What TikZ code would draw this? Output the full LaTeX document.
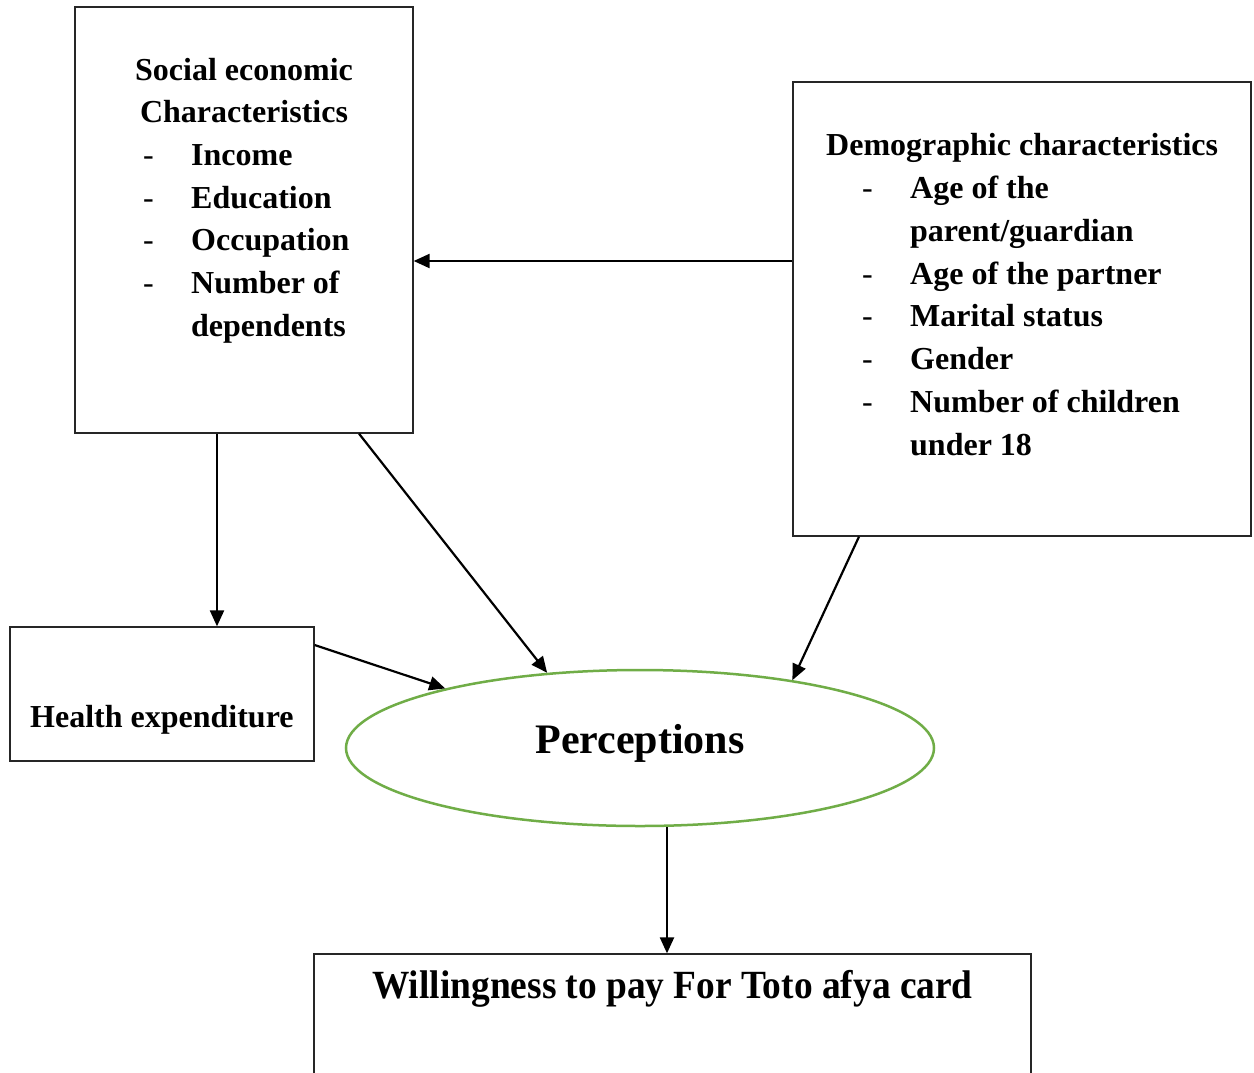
\documentclass[tikz,border=0pt]{standalone}
\usepackage{fontspec}
\usepackage{graphicx}
\setmainfont{Liberation Serif}
\usetikzlibrary{arrows.meta,shapes.geometric}
\begin{document}
\begin{tikzpicture}[x=1pt,y=-1pt,
  box/.style={draw=black!85,line width=1.3pt,inner sep=0pt},
  arr/.style={line width=2.2pt,-{Triangle[length=16pt,width=14pt]}},
  txt/.style={anchor=base west,inner sep=0pt,font=\fontsize{32}{38}\selectfont\bfseries},
  dsh/.style={anchor=base west,inner sep=0pt,font=\fontsize{32}{38}\selectfont}]
\useasboundingbox (0,0) rectangle (1254,1072);
\clip (0,0) rectangle (1254,1072);
\fill[white] (0,0) rectangle (1254,1072);
% boxes
\node[box,minimum width=338pt,minimum height=426pt] (soc) at (244,220) {};
\node[box,minimum width=458pt,minimum height=454pt] (demo) at (1022,309) {};
\node[box,minimum width=304pt,minimum height=134pt] (health) at (162,694) {};
\node[draw={rgb,255:red,112;green,173;blue,71},line width=2.5pt,ellipse,minimum width=588pt,minimum height=156pt,inner sep=0pt] (perc) at (640,748) {};
\node[box,minimum width=717pt,minimum height=140pt] (will) at (672.5,1024) {};
% texts box 1
\node[txt,anchor=base] (s1) at (244,80) {Social economic};
\node[txt,anchor=base] (s2) at (244,122) {Characteristics};
\node[dsh] (d1) at (143,165) {-};
\node[txt] (s3) at (191,165) {Income};
\node[dsh] (d2) at (143,208) {-};
\node[txt] (s4) at (191,208) {Education};
\node[dsh] (d3) at (143,250) {-};
\node[txt] (s5) at (191,250) {Occupation};
\node[dsh] (d4) at (143,293) {-};
\node[txt] (s6) at (191,293) {Number of};
\node[txt] (s7) at (191,336) {dependents};
% texts box 2
\node[txt] (t1) at (826,155) {Demographic characteristics};
\node[dsh] (e1) at (862,198) {-};
\node[txt] (t2) at (910,198) {Age of the};
\node[txt] (t3) at (910,241) {parent/guardian};
\node[dsh] (e2) at (862,284) {-};
\node[txt] (t4) at (910,284) {Age of the partner};
\node[dsh] (e3) at (862,326) {-};
\node[txt] (t5) at (910,326) {Marital status};
\node[dsh] (e4) at (862,369) {-};
\node[txt] (t6) at (910,369) {Gender};
\node[dsh] (e5) at (862,412) {-};
\node[txt] (t7) at (910,412) {Number of children};
\node[txt] (t8) at (910,455) {under 18};
% other texts
\node[txt] (h1) at (30,727) {Health expenditure};
\node[txt,anchor=base,font=\fontsize{42}{48}\selectfont\bfseries] (p1) at (640,753) {Perceptions};
\node[txt,anchor=base,font=\fontsize{40}{46}\selectfont\bfseries] (w1) at (672.5,998) {\scalebox{0.935}[1]{Willingness to pay For Toto afya card}};
% connectors
\draw[arr] ([yshift=48pt]demo.west) -- ([yshift=-41pt]soc.east);
\draw[arr] ([xshift=-27pt]soc.south) -- ([xshift=55pt]health.north);
\draw[arr] ([xshift=115pt]soc.south) -- (perc.141);
\draw[arr] ([xshift=-163pt]demo.south) -- (perc.24);
\draw[arr] ([yshift=49pt]health.east) -- (perc.163);
\draw[arr] ([xshift=27pt]perc.south) -- ([xshift=-5.5pt]will.north);
\end{tikzpicture}
\end{document}
